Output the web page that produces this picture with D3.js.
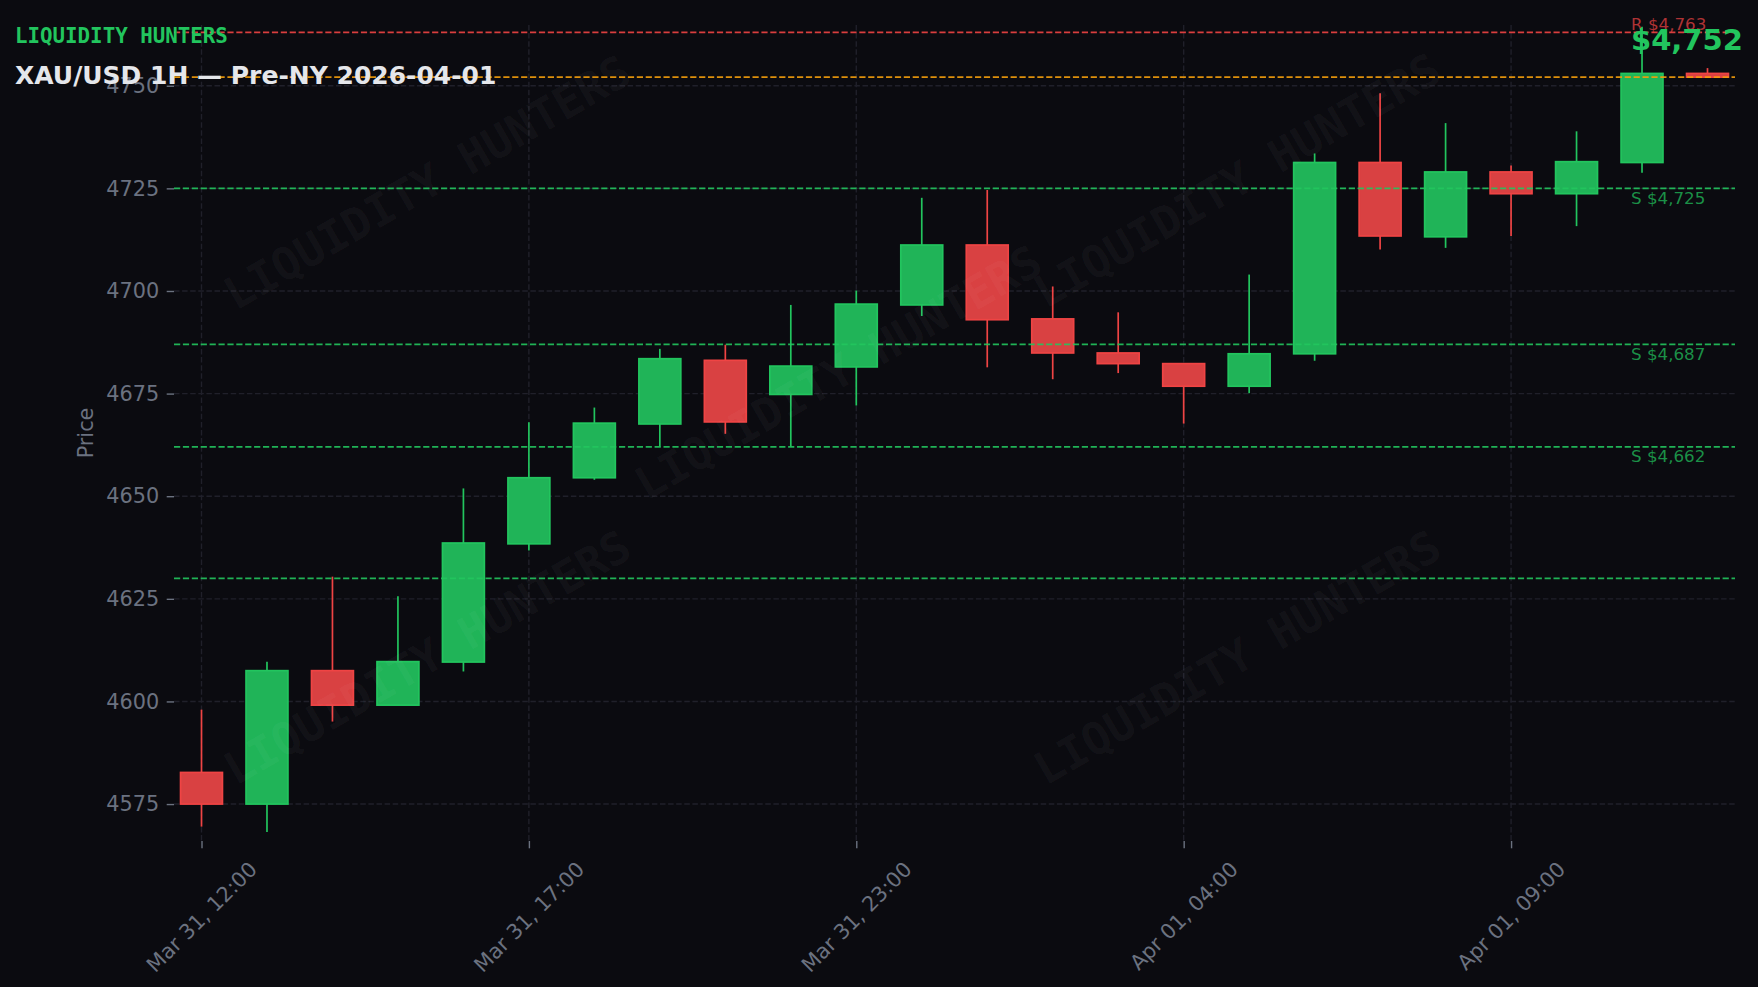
<!DOCTYPE html>
<html>
<head>
<meta charset="utf-8">
<script src="https://cdn.jsdelivr.net/npm/d3@7"></script>
<style>
  html, body { margin: 0; padding: 0; background: #0b0b10; }
  svg { display: block; }
</style>
</head>
<body>
<svg id="chart"></svg>
<script>
// Hourly candles, XAU/USD, pre-NY session
const times = [
  "2026-03-31 12:00", "2026-03-31 13:00", "2026-03-31 14:00", "2026-03-31 15:00",
  "2026-03-31 16:00", "2026-03-31 17:00", "2026-03-31 18:00", "2026-03-31 19:00",
  "2026-03-31 20:00", "2026-03-31 21:00", "2026-03-31 23:00", "2026-04-01 00:00",
  "2026-04-01 01:00", "2026-04-01 02:00", "2026-04-01 03:00", "2026-04-01 04:00",
  "2026-04-01 05:00", "2026-04-01 06:00", "2026-04-01 07:00", "2026-04-01 08:00",
  "2026-04-01 09:00", "2026-04-01 10:00", "2026-04-01 11:00", "2026-04-01 12:00"
];
const opens  = [4582.7, 4575.0, 4607.5, 4599.1, 4609.6, 4638.4, 4654.5, 4667.6, 4683.1, 4674.8, 4681.5, 4696.6,
                4711.2, 4693.2, 4684.9, 4682.3, 4676.8, 4684.7, 4731.3, 4713.2, 4729.0, 4723.7, 4731.3, 4753.0];
const highs  = [4598.0, 4609.7, 4630.4, 4625.6, 4651.9, 4668.0, 4671.6, 4685.9, 4686.9, 4696.6, 4700.1, 4722.7,
                4724.6, 4701.1, 4694.8, 4682.3, 4704.0, 4733.5, 4748.2, 4740.9, 4730.6, 4738.9, 4764.4, 4754.3];
const lows   = [4569.5, 4568.2, 4595.1, 4599.1, 4607.3, 4636.8, 4654.0, 4662.1, 4665.2, 4662.1, 4672.1, 4693.9,
                4681.4, 4678.5, 4680.0, 4667.7, 4675.1, 4683.0, 4710.1, 4710.5, 4713.4, 4715.8, 4728.8, 4752.1];
const closes = [4575.0, 4607.5, 4599.1, 4609.7, 4638.6, 4654.5, 4667.8, 4683.5, 4668.1, 4681.7, 4696.8, 4711.2,
                4693.0, 4684.9, 4682.3, 4676.8, 4684.7, 4731.3, 4713.4, 4729.0, 4723.7, 4731.5, 4753.0, 4752.1];

// Key levels
const resistanceLevels = [4763];
const supportLevels = [4725, 4687, 4662, 4630];
const supportLabelled = [true, true, true, false];

// Axis ticks
const yTicks = [4575, 4600, 4625, 4650, 4675, 4700, 4725, 4750];
const xTickIdx = [0, 5, 10, 15, 20];

const brandText = "LIQUIDITY HUNTERS";
const titleText = "XAU/USD 1H \u2014 Pre-NY 2026-04-01";
const yAxisLabel = "Price";

const W = 1758, H = 987;
const GREEN = "#22c55e", RED = "#ef4444", ORANGE = "#f59e0b";
const GRAY = "#6b7280", GRID = "#20202a";
const SANS = "'DejaVu Sans', sans-serif";
const MONO = "'DejaVu Sans Mono', monospace";

const parseTime = d3.timeParse("%Y-%m-%d %H:%M");
const fmtTime = d3.timeFormat("%b %d, %H:%M");
const fmtPrice = d3.format("$,.0f");

const candles = times.map((t, i) => ({
    i: i,
    date: parseTime(t),
    o: opens[i], h: highs[i], l: lows[i], c: closes[i]
}));
const lastClose = closes[closes.length - 1];

const plot = { left: 174, right: 1735, top: 25, bottom: 841 };

const svg = d3.select('#chart').attr('width', W).attr('height', H);
svg.append('rect').attr('width', W).attr('height', H).attr('fill', '#0b0b10');

const x = d3.scaleLinear()
    .domain([-0.42, candles.length - 1 + 0.42])
    .range([plot.left, plot.right]);
const y = d3.scaleLinear()
    .domain([4566.0, 4764.8])
    .range([plot.bottom, plot.top]);
const step = x(1) - x(0);
const bodyW = step * 0.64;

// grid
const grid = svg.append('g');
grid.selectAll('.hgrid')
    .data(yTicks)
    .join('line')
    .attr('x1', plot.left).attr('x2', plot.right)
    .attr('y1', d => y(d)).attr('y2', d => y(d))
    .attr('stroke', GRID).attr('stroke-width', 1.4)
    .attr('stroke-dasharray', '5.5,2.6');
grid.selectAll('.vgrid')
    .data(xTickIdx)
    .join('line')
    .attr('x1', d => x(d)).attr('x2', d => x(d))
    .attr('y1', plot.top).attr('y2', plot.bottom)
    .attr('stroke', GRID).attr('stroke-width', 1.4)
    .attr('stroke-dasharray', '5.5,2.6');

// y axis
const yAxis = svg.append('g')
    .attr('transform', `translate(${plot.left},0)`)
    .call(d3.axisLeft(y).tickValues(yTicks).tickFormat(d3.format('d')).tickSize(7.3).tickPadding(7.5));
yAxis.select('.domain').remove();
yAxis.selectAll('line').attr('stroke', GRAY).attr('stroke-width', 1.4);
yAxis.selectAll('text')
    .attr('fill', GRAY)
    .style('font-family', SANS)
    .style('font-size', '20.8px');

svg.append('text')
    .attr('transform', `translate(86,${(plot.top + plot.bottom) / 2}) rotate(-90)`)
    .attr('text-anchor', 'middle')
    .attr('dy', '0.35em')
    .attr('fill', GRAY)
    .style('font-family', SANS)
    .style('font-size', '20.8px')
    .text(yAxisLabel);

// x axis (labels rotated 45 deg)
const xAxis = svg.append('g')
    .attr('transform', `translate(0,${plot.bottom})`)
    .call(d3.axisBottom(x).tickValues(xTickIdx).tickSize(7.3).tickFormat(''));
xAxis.select('.domain').remove();
xAxis.selectAll('line').attr('stroke', GRAY).attr('stroke-width', 1.4);

const fs = 20.8;
const xLabels = svg.append('g');
xTickIdx.forEach(i => {
    const t = xLabels.append('text')
        .attr('text-anchor', 'middle')
        .attr('dy', '0.36em')
        .attr('fill', GRAY)
        .style('font-family', SANS)
        .style('font-size', fs + 'px')
        .text(fmtTime(candles[i].date));
    const w = t.node().getComputedTextLength();
    const half = (w + 0.73 * fs) * Math.SQRT1_2 / 2;
    t.attr('transform', `translate(${x(i)},${860 + half}) rotate(-45)`);
});

// candles
const candleG = svg.append('g');
candleG.selectAll('.wick')
    .data(candles)
    .join('line')
    .attr('class', 'wick')
    .attr('x1', d => x(d.i)).attr('x2', d => x(d.i))
    .attr('y1', d => y(d.h)).attr('y2', d => y(d.l))
    .attr('stroke', d => d.c >= d.o ? GREEN : RED)
    .attr('stroke-width', 1.7);
candleG.selectAll('.body')
    .data(candles)
    .join('rect')
    .attr('class', 'body')
    .attr('x', d => x(d.i) - bodyW / 2)
    .attr('width', bodyW)
    .attr('y', d => y(Math.max(d.o, d.c)))
    .attr('height', d => Math.max(0.6, Math.abs(y(d.o) - y(d.c))))
    .attr('fill', d => d.c >= d.o ? '#20b458' : '#d94142')
    .attr('stroke', d => d.c >= d.o ? GREEN : RED)
    .attr('stroke-width', 1.7);

// watermark
const marks = [[427, 182], [1237, 180], [838, 372], [427, 657], [1237, 657]];
svg.append('g').selectAll('text')
    .data(marks)
    .join('text')
    .attr('transform', d => `translate(${d[0]},${d[1]}) rotate(-30)`)
    .attr('text-anchor', 'middle')
    .attr('dy', '0.36em')
    .attr('fill', '#ffffff')
    .attr('fill-opacity', 0.045)
    .style('font-family', MONO)
    .style('font-weight', 'bold')
    .style('font-size', '45px')
    .text(brandText);

// levels
const levelG = svg.append('g');
const levelLine = (v, color) => levelG.append('line')
    .attr('x1', plot.left).attr('x2', plot.right)
    .attr('y1', y(v)).attr('y2', y(v))
    .attr('stroke', color).attr('stroke-width', 1.7)
    .attr('stroke-opacity', 0.9)
    .attr('stroke-dasharray', '6.2,2.7');

const labelX = 1631;
supportLevels.forEach((v, k) => {
    levelLine(v, GREEN);
    if (supportLabelled[k]) {
        levelG.append('text')
            .attr('x', labelX).attr('y', y(v) + 15.5)
            .attr('fill', GREEN).attr('fill-opacity', 0.72)
            .style('font-family', SANS).style('font-size', '16.7px')
            .text('S ' + fmtPrice(v));
    }
});
resistanceLevels.forEach(v => {
    levelLine(v, RED);
    levelG.append('text')
        .attr('x', labelX).attr('y', y(v) - 2)
        .attr('fill', RED).attr('fill-opacity', 0.72)
        .style('font-family', SANS).style('font-size', '16.7px')
        .text('R ' + fmtPrice(v));
});
levelLine(lastClose, ORANGE);

// current price
svg.append('text')
    .attr('x', labelX).attr('y', 50)
    .attr('fill', GREEN)
    .style('font-family', SANS).style('font-weight', 'bold').style('font-size', '29px')
    .text(fmtPrice(lastClose));

// titles
svg.append('text')
    .attr('x', 15).attr('y', 43)
    .attr('fill', GREEN)
    .style('font-family', MONO).style('font-weight', 'bold').style('font-size', '20.8px')
    .text(brandText);
svg.append('text')
    .attr('x', 15).attr('y', 84)
    .attr('fill', '#e5e7eb')
    .style('font-family', SANS).style('font-weight', 'bold').style('font-size', '25px')
    .text(titleText);
</script>
</body>
</html>
